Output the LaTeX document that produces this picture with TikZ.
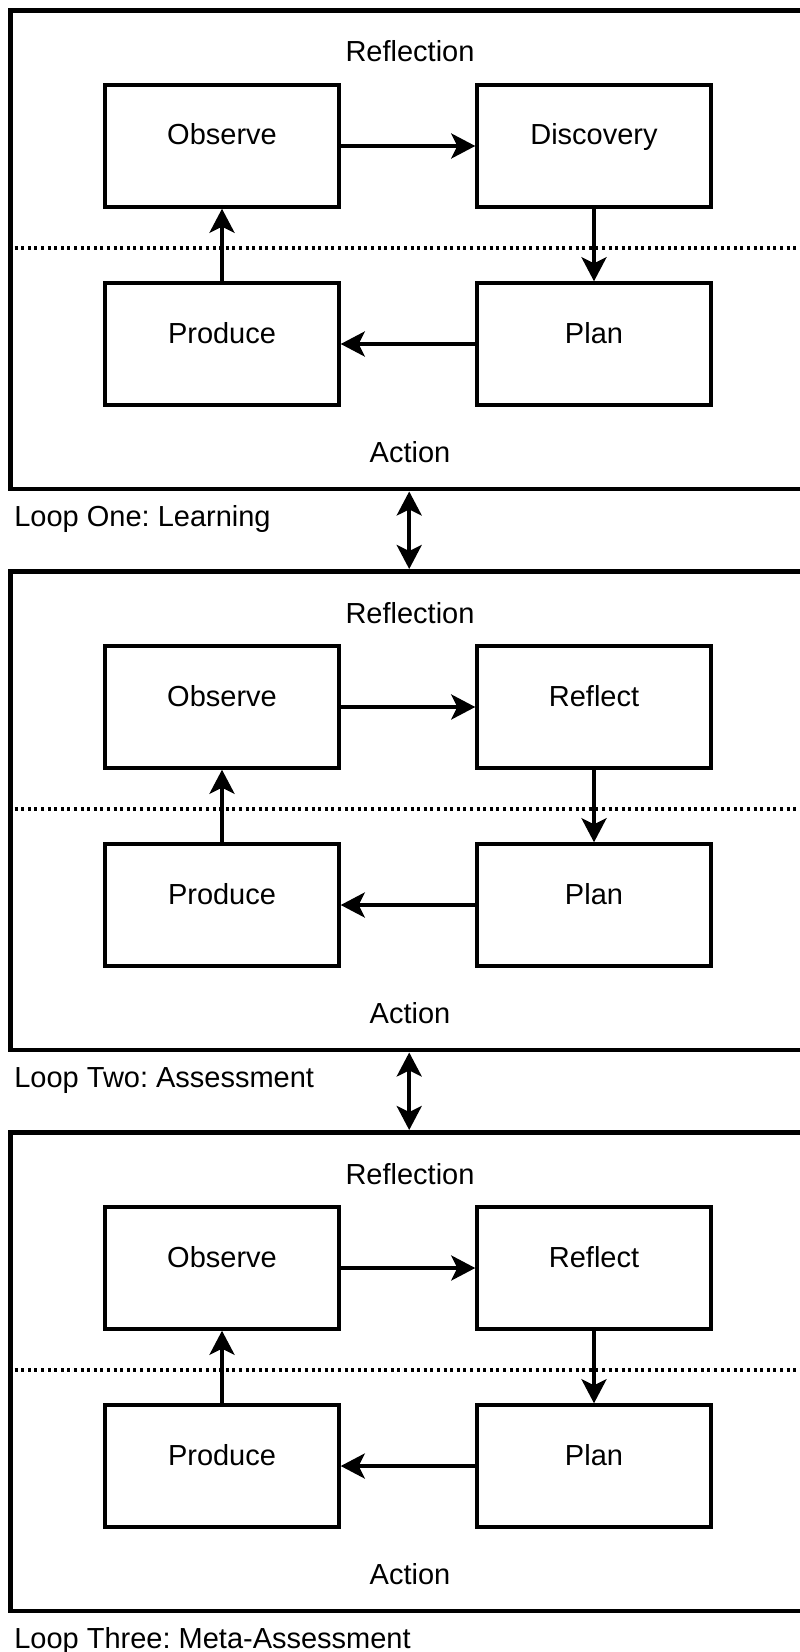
\documentclass[tikz,border=0pt]{standalone}
\usepackage{fontspec}
\setmainfont{Liberation Sans}
\usetikzlibrary{arrows.meta, positioning}
\frenchspacing

\tikzset{
  loopframe/.style={draw, line width=2.6pt, anchor=north west, inner sep=0pt,
    minimum width=15.96cm, minimum height=9.58cm},
  stagebox/.style={draw, line width=2pt, inner sep=0pt,
    minimum width=4.68cm, minimum height=2.44cm, text height=0.42cm, text depth=0.46cm},
  zone/.style={inner sep=0pt, anchor=base},
  flow/.style={line width=2pt, -{Stealth[length=0.48cm, width=0.5cm, inset=0.12cm]}},
  link/.style={line width=2pt, {Stealth[length=0.48cm, width=0.5cm, inset=0.12cm]}-{Stealth[length=0.48cm, width=0.5cm, inset=0.12cm]}},
  divider/.style={line width=0.07cm, dash pattern=on 0.06cm off 0.072cm},
}

\begin{document}
\begin{tikzpicture}[x=0.02cm, y=-0.02cm, font=\fontsize{16.5pt}{20pt}\selectfont]
  \useasboundingbox (0,0) rectangle (800,1652);

  % three loops, stacked
  \foreach \k/\rname/\loopname in {0/Discovery/Loop One: Learning,
                                   1/Reflect/Loop Two: Assessment,
                                   2/Reflect/Loop Three: Meta-Assessment} {
    \pgfmathsetmacro{\ftop}{8+561*\k}
    \node[loopframe] (frame\k) at (8,\ftop) {};
    \draw[divider] (8,\ftop+240) -- (806,\ftop+240);

    % zones
    \node[zone] (refl\k) at (410,\ftop+54) {Reflection};
    \node[zone] (act\k) at (410,\ftop+454) {Action};
    \node[zone, anchor=base west] (name\k) at (14,\ftop+518) {\loopname};

    % stages
    \node[stagebox] (obs\k) at (222,\ftop+138) {Observe};
    \node[stagebox] (dis\k) at (594,\ftop+138) {\rname};
    \node[stagebox] (prod\k) at (222,\ftop+336) {Produce};
    \node[stagebox] (plan\k) at (594,\ftop+336) {Plan};

    \draw[flow] (obs\k) -- (dis\k);
    \draw[flow] (dis\k) -- (plan\k);
    \draw[flow] (plan\k) -- (prod\k);
    \draw[flow] (prod\k) -- (obs\k);
  }

  % links between loops
  \draw[link] (frame0.south) -- (frame1.north);
  \draw[link] (frame1.south) -- (frame2.north);
\end{tikzpicture}
\end{document}
